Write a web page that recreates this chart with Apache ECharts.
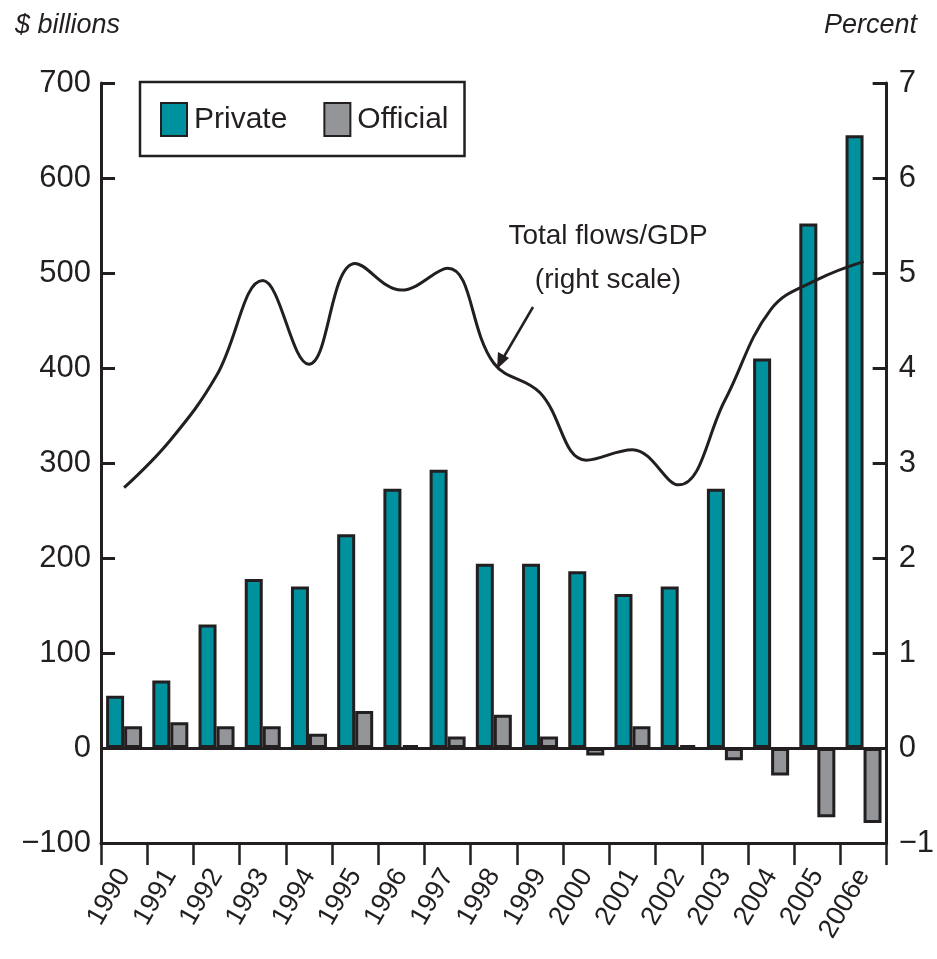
<!DOCTYPE html>
<html>
<head>
<meta charset="utf-8">
<script src="https://cdn.jsdelivr.net/npm/echarts@6/dist/echarts.min.js"></script>
<style>
  html, body { margin: 0; padding: 0; background: #fff; }
  #main { width: 937px; height: 959px; }
</style>
</head>
<body>
<div id="main"></div>
<script>
// data
const years = ["1990", "1991", "1992", "1993", "1994", "1995", "1996", "1997", "1998",
  "1999", "2000", "2001", "2002", "2003", "2004", "2005", "2006e"];
const privateFlows = [55, 71, 130, 178, 170, 225, 273, 293, 194, 194, 186, 162, 170, 273, 410, 552, 645];
const officialFlows = [23, 27, 23, 23, 15, 39, 3, 12, 35, 12, -8, 23, 3, -13, -29, -73, -79];
const flowsToGdp = [2.74, 3.24, 3.92, 4.92, 4.04, 5.1, 4.82, 5.05, 4.05, 3.74, 3.03, 3.14, 2.77, 3.66, 4.62, 4.93, 5.12];
const leftTicks = { min: -100, max: 700, step: 100 };
const rightTicks = { min: -1, max: 7, step: 1 };

const FONT = "Liberation Sans";
const INK = "#231f20";
const minus = (v) => String(v).replace("-", "\u2212");

const chart = echarts.init(document.getElementById("main"));
chart.setOption({
  animation: false,
  textStyle: { fontFamily: FONT, color: INK },
  grid: { left: 101, right: 48, top: 83, bottom: 116 },
  legend: {
    left: 140,
    top: 82,
    data: ["Private", "Official"],
    icon: "rect",
    itemWidth: 26,
    itemHeight: 33,
    itemGap: 36,
    padding: [20, 16, 19, 20],
    borderColor: INK,
    borderWidth: 2.5,
    textStyle: { fontSize: 30, fontFamily: FONT, color: INK, padding: [0, 0, 0, 2] },
  },
  xAxis: {
    type: "category",
    data: years,
    axisLine: { onZero: false, lineStyle: { color: INK, width: 3 } },
    axisTick: { show: true, length: 22, lineStyle: { color: INK, width: 2.5 } },
    axisLabel: { interval: 0, rotate: 60, fontSize: 27, color: INK, margin: 28 },
    splitLine: { show: false },
  },
  yAxis: [
    {
      type: "value",
      min: leftTicks.min,
      max: leftTicks.max,
      interval: leftTicks.step,
      position: "left",
      axisLine: { show: true, lineStyle: { color: INK, width: 3 } },
      axisTick: { show: true, inside: true, length: 14, lineStyle: { color: INK, width: 3 } },
      axisLabel: { fontSize: 31, color: INK, margin: 10, formatter: minus },
      splitLine: { show: false },
    },
    {
      type: "value",
      min: rightTicks.min,
      max: rightTicks.max,
      interval: rightTicks.step,
      position: "right",
      axisLine: { show: true, lineStyle: { color: INK, width: 3 } },
      axisTick: { show: true, inside: true, length: 14, lineStyle: { color: INK, width: 3 } },
      axisLabel: { fontSize: 31, color: INK, margin: 12, formatter: minus },
      splitLine: { show: false },
    },
  ],
  series: [
    {
      name: "Private",
      type: "bar",
      data: privateFlows,
      barWidth: 18,
      barGap: "0%",
      itemStyle: { color: "#00919e", borderColor: INK, borderWidth: 3 },
      markLine: {
        silent: true,
        symbol: "none",
        label: { show: false },
        lineStyle: { color: INK, width: 3, type: "solid" },
        data: [{ yAxis: 0 }],
      },
    },
    {
      name: "Official",
      type: "bar",
      data: officialFlows,
      barWidth: 18,
      itemStyle: { color: "#939598", borderColor: INK, borderWidth: 3 },
    },
    {
      name: "Total flows/GDP",
      type: "line",
      yAxisIndex: 1,
      data: flowsToGdp,
      smooth: 0.4,
      symbol: "none",
      z: 5,
      lineStyle: { color: INK, width: 3 },
    },
  ],
  graphic: [
    { type: "text", left: 15, top: 12, style: { text: "$ billions", font: "italic 27px " + FONT, fill: INK } },
    { type: "text", right: 20, top: 12, style: { text: "Percent", font: "italic 27px " + FONT, fill: INK } },
    {
      type: "text", x: 608, y: 258,
      style: { text: "Total flows/GDP\n(right scale)", font: "28px " + FONT, lineHeight: 44, fill: INK, align: "center", verticalAlign: "middle" },
    },
    { type: "line", shape: { x1: 533, y1: 307, x2: 502, y2: 360 }, style: { stroke: INK, lineWidth: 2.5 } },
    { type: "polygon", shape: { points: [[497, 369], [498, 352], [509, 358]] }, style: { fill: INK } },
  ],
});
</script>
</body>
</html>
